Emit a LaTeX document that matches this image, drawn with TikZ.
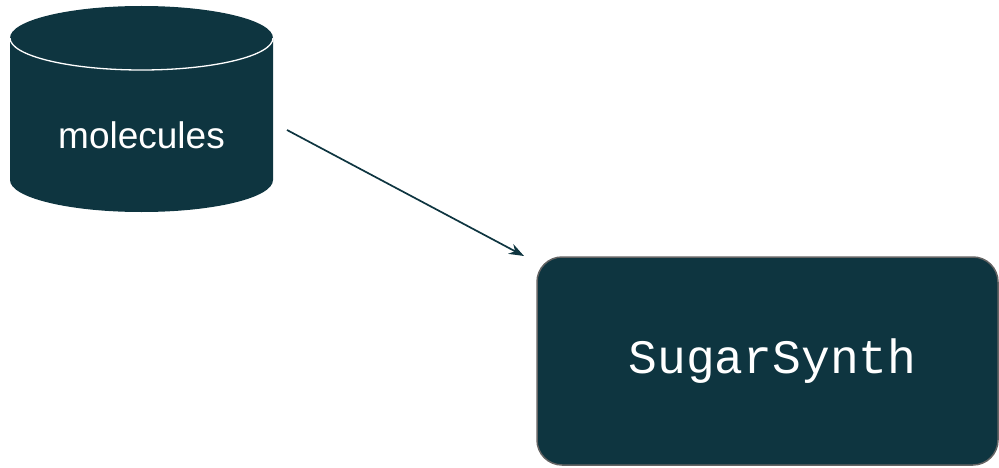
\documentclass[tikz,border=0pt]{standalone}
\usepackage{fontspec}
\setmainfont{Liberation Sans}
\newfontfamily\monofont{Liberation Mono}
\usetikzlibrary{arrows.meta,positioning}
\definecolor{deepteal}{RGB}{14,53,64}
\definecolor{edgegray}{RGB}{100,100,100}

\begin{document}
\begin{tikzpicture}[x=1pt, y=1pt,
    dbfill/.style={fill=deepteal},
    dblbl/.style={text=white, font=\fontsize{37}{42}\selectfont},
    svc/.style={draw=edgegray, line width=1.5pt, fill=deepteal, rounded corners=25pt, minimum width=461pt, minimum height=208pt, text=white, font=\monofont\fontsize{48}{54}\selectfont},
    arr/.style={-{Stealth[length=15pt, width=11pt]}, line width=1.7pt, deepteal}
]
\useasboundingbox (0,0) rectangle (999,467);
% database cylinder
\fill[dbfill] (10,429) -- (10,287) arc[start angle=180, end angle=360, x radius=131.5, y radius=32]
    -- (273,429) arc[start angle=0, end angle=180, x radius=131.5, y radius=32] -- cycle;
\draw[white, line width=1.3pt] (10,429) arc[start angle=180, end angle=360, x radius=131.5, y radius=32];
\node[dblbl] (mol) at (141.5,332) {molecules};

\node[svc] (synth) at (767.5,106) {\hspace*{10pt}SugarSynth};

\coordinate (src) at (287,337);
\coordinate (dst) at (524,211);
\draw[arr] (src) -- (dst);
\end{tikzpicture}
\end{document}
